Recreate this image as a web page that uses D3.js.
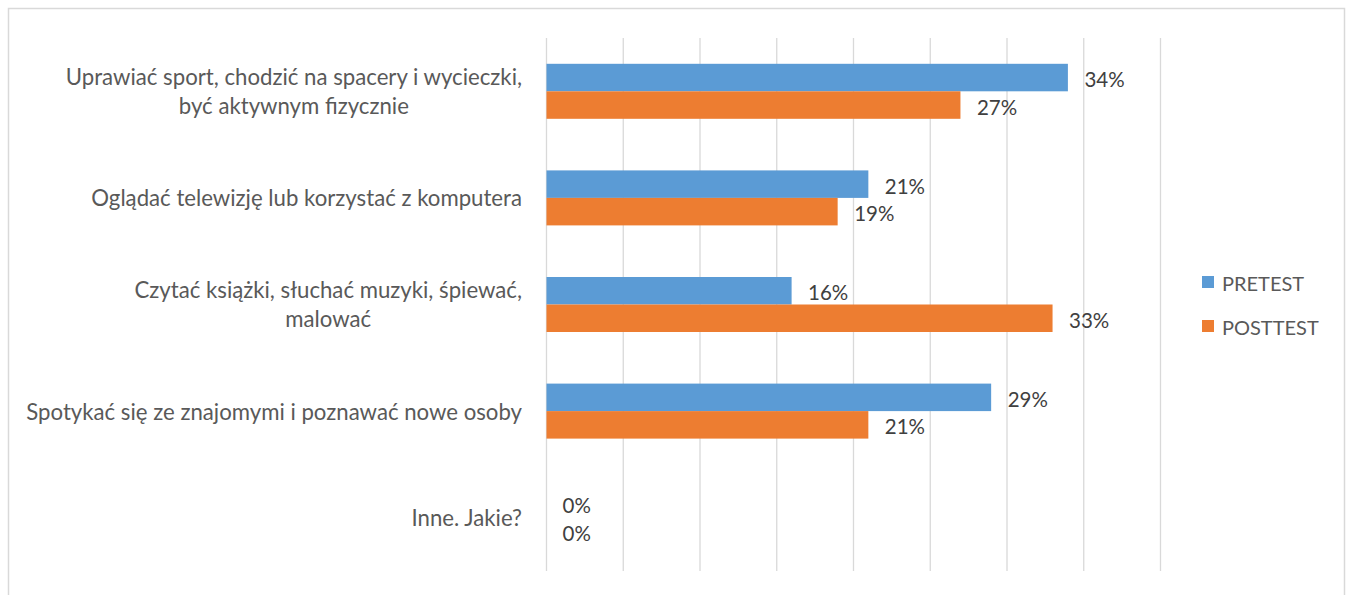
<!DOCTYPE html>
<html>
<head>
<meta charset="utf-8">
<script src="https://cdn.jsdelivr.net/npm/d3@7"></script>
<style>
  html, body { margin: 0; padding: 0; background: #fff; }
  svg { display: block; }
</style>
</head>
<body>
<svg id="chart" width="1346" height="595"></svg>
<script>
// Activities (category axis), top to bottom
const categories = [
  ["Uprawiać sport, chodzić na spacery i wycieczki,", "być aktywnym fizycznie"],
  ["Oglądać telewizję lub korzystać z komputera"],
  ["Czytać książki, słuchać muzyki, śpiewać,", "malować"],
  ["Spotykać się ze znajomymi i poznawać nowe osoby"],
  ["Inne. Jakie?"]
];
const seriesNames = ["PRETEST", "POSTTEST"];
// Shares of answers in percent
const pretest = [34, 21, 16, 29, 0];
const posttest = [27, 19, 33, 21, 0];
// Vertical gridlines every 5 percentage points
const gridTicks = [0, 5, 10, 15, 20, 25, 30, 35, 40];

const colors = { PRETEST: "#5B9BD5", POSTTEST: "#ED7D31" };
const FONT = "Lato, 'Open Sans', sans-serif";

const svg = d3.select("#chart");

// Chart frame
svg.append("rect")
  .attr("x", 8.5).attr("y", 8.5)
  .attr("width", 1336).attr("height", 620)
  .attr("fill", "#fff")
  .attr("stroke", "#D9D9D9").attr("stroke-width", 1.5);

const keys = categories.map((c, i) => "c" + i);
const rows = keys.map((k, i) => ({ key: k, lines: categories[i], PRETEST: pretest[i], POSTTEST: posttest[i] }));

const x = d3.scaleLinear().domain([0, 40]).range([546, 1160]);
const y = d3.scaleBand().domain(keys).range([38, 571]);
const barH = 27.5;
const ySub = d3.scaleBand().domain(seriesNames)
  .range([y.bandwidth() / 2 - barH, y.bandwidth() / 2 + barH]);

// Gridlines
svg.append("g")
  .attr("transform", "translate(0,571)")
  .call(d3.axisBottom(x).tickValues(gridTicks).tickSize(-(571 - 38)).tickFormat(""))
  .call(g => g.select(".domain").remove())
  .call(g => g.selectAll(".tick line").attr("stroke", "#D9D9D9").attr("stroke-width", 1.3));

// Bars
const groups = svg.append("g").selectAll("g")
  .data(rows).join("g")
  .attr("transform", d => `translate(0,${y(d.key)})`);

groups.selectAll("rect")
  .data(d => seriesNames.map(s => ({ s, v: d[s] })))
  .join("rect")
  .attr("x", x(0) + 0.5)
  .attr("y", d => ySub(d.s))
  .attr("width", d => Math.max(0, x(d.v) - x(0) - 0.5))
  .attr("height", ySub.bandwidth())
  .attr("fill", d => colors[d.s]);

// Value labels
groups.selectAll("text.val")
  .data(d => seriesNames.map(s => ({ s, v: d[s] })))
  .join("text")
  .attr("class", "val")
  .attr("x", d => x(d.v) + 16.5)
  .attr("y", d => ySub(d.s) + ySub.bandwidth() / 2 + 1.5)
  .attr("dominant-baseline", "central")
  .attr("font-family", FONT)
  .attr("font-size", 20.5)
  .attr("fill", "#404040")
  .text(d => d.v + "%");

// Category labels: block right-aligned to the axis, lines centred within the block
const labelRight = 522;
const lineH = 29;
groups.each(function (d) {
  const g = d3.select(this);
  const t = g.append("g");
  const texts = d.lines.map((ln, i) =>
    t.append("text")
      .attr("font-family", FONT)
      .attr("font-size", 22.2)
      .attr("fill", "#595959")
      .attr("text-anchor", "middle")
      .attr("dominant-baseline", "central")
      .attr("y", y.bandwidth() / 2 + (i - (d.lines.length - 1) / 2) * lineH)
      .text(ln));
  const w = d3.max(texts, s => s.node().getComputedTextLength());
  texts.forEach(s => s.attr("x", labelRight - w / 2));
});

// Legend
const legend = svg.append("g").selectAll("g")
  .data(seriesNames).join("g")
  .attr("transform", (d, i) => `translate(1202,${276 + i * 44})`);
legend.append("rect")
  .attr("width", 12).attr("height", 12)
  .attr("fill", d => colors[d]);
legend.append("text")
  .attr("x", 20).attr("y", 6.5)
  .attr("dominant-baseline", "central")
  .attr("font-family", FONT)
  .attr("font-size", 20)
  .attr("fill", "#595959")
  .text(d => d);
</script>
</body>
</html>
